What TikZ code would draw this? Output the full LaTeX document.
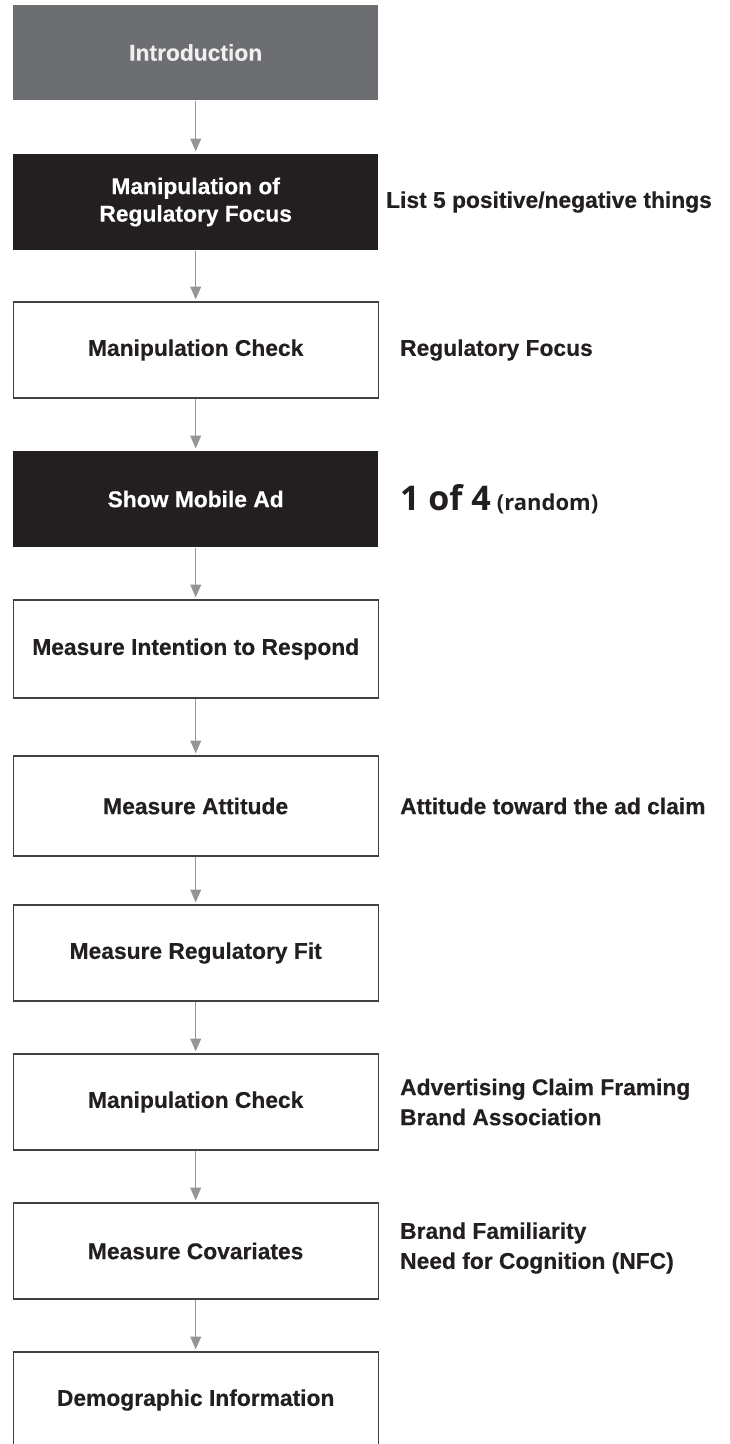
\documentclass[tikz,border=0pt]{standalone}
\usepackage{fontspec}
\setmainfont{Liberation Sans}[BoldFeatures={FakeBold=0.4}]
\newfontfamily\numfont{Open Sans}
\usetikzlibrary{arrows.meta}
\definecolor{ink}{HTML}{231F20}
\definecolor{introgray}{HTML}{6D6E71}
\definecolor{arrowgray}{HTML}{939598}
\definecolor{edgegray}{HTML}{414042}
\begin{document}
\begin{tikzpicture}[x=1pt,y=-1pt,
  stepbox/.style={draw=edgegray, line width=1.3pt, fill=white, text=ink,
    minimum width=365pt, minimum height=96pt, inner sep=0pt, align=center,
    font=\fontsize{22.8}{27.5}\selectfont\bfseries},
  darkbox/.style={stepbox, draw=none, fill=ink, text=white},
  introbox/.style={stepbox, draw=none, fill=introgray, text=white!94!black},
  note/.style={anchor=west, inner sep=0pt, align=left, text=ink,
    font=\fontsize{22.8}{30}\selectfont\bfseries},
  flow/.style={draw=arrowgray, line width=1.3pt, shorten >=2pt,
    -{Triangle[width=10.7pt,length=12.7pt]}}]
  \clip (0,0) rectangle (730,1444);
  \fill[white] (0,0) rectangle (730,1444);

  % flow steps, top to bottom
  \node[introbox, minimum height=95pt] (intro) at (195.7,52.5) {Introduction};
  \node[darkbox] (focus) at (195.7,202) {Manipulation of\\Regulatory Focus};
  \node[stepbox] (check1) at (195.7,350) {Manipulation Check};
  \node[darkbox] (ad) at (195.7,499) {Show Mobile Ad};
  \node[stepbox, minimum height=98pt] (intent) at (195.7,649) {Measure Intention to Respond};
  \node[stepbox, minimum height=100pt] (attitude) at (195.7,806) {Measure Attitude};
  \node[stepbox] (fit) at (195.7,953) {Measure Regulatory Fit};
  \node[stepbox] (check2) at (195.7,1102) {Manipulation Check};
  \node[stepbox] (covar) at (195.7,1251) {Measure Covariates};
  \node[stepbox] (demo) at (195.7,1400) {Demographic Information};

  % connectors
  \draw[flow] (intro) -- (focus);
  \draw[flow] (focus) -- (check1);
  \draw[flow] (check1) -- (ad);
  \draw[flow] (ad) -- (intent);
  \draw[flow] (intent) -- (attitude);
  \draw[flow] (attitude) -- (fit);
  \draw[flow] (fit) -- (check2);
  \draw[flow] (check2) -- (covar);
  \draw[flow] (covar) -- (demo);

  % side notes
  \node[note] (n1) at (386,202) {List 5 positive/negative things};
  \node[note] (n2) at (400,350) {Regulatory Focus};
  \node[note, font=\numfont\bfseries\fontsize{22}{26}\selectfont] (n3) at (400,499)
    {{\fontsize{34}{40}\selectfont 1 of 4}\hspace{6pt}(random)};
  \node[note] (n4) at (400,806) {Attitude toward the ad claim};
  \node[note] (n5) at (400,1102) {Advertising Claim Framing\\Brand Association};
  \node[note] (n6) at (400,1248) {Brand Familiarity\\Need for Cognition (NFC)};
\end{tikzpicture}
\end{document}
